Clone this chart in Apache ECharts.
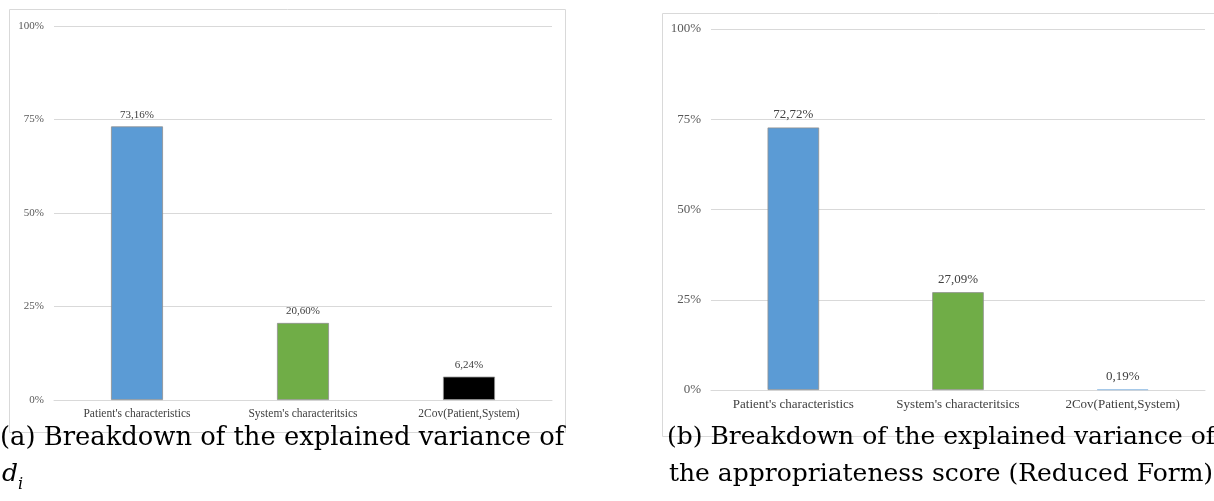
<!DOCTYPE html>
<html><head><meta charset="utf-8">
<script src="https://cdn.jsdelivr.net/npm/echarts@6/dist/echarts.min.js"></script>
<style>html,body{margin:0;padding:0;background:#fff}#c{width:1214px;height:501px}</style>
</head><body><div id="c"></div>
<script>
const categories = ["Patient's characteristics", "System's characteritsics", "2Cov(Patient,System)"];
const valuesA = [73.16, 20.60, 6.24];
const valuesB = [72.72, 27.09, 0.19];
const colorsA = ['#5B9BD5', '#70AD47', '#000000'];
const colorsB = ['#5B9BD5', '#70AD47', '#5B9BD5'];
const bordersA = ['#8f8f8f', '#8f8f8f', '#8f8f8f'];
const bordersB = ['#8f8f8f', '#8f8f8f', '#9cc3e6'];
const yTicks = [0, 25, 50, 75, 100];
const captionA = ['(a) Breakdown of the explained variance of', 'd', 'i'];
const captionB = ['(b) Breakdown of the explained variance of', 'the appropriateness score (Reduced Form)'];

const chart = echarts.init(document.getElementById('c'), null, {renderer: 'canvas'});
const serif = '"Liberation Serif", "Times New Roman", serif';
const capFont = '"DejaVu Serif", serif';
function fmt(v){ return v.toFixed(2).replace('.', ',') + '%'; }
function mkData(vals, cols, bords){
  return vals.map((v,i)=>({value:v, itemStyle:{color:cols[i], borderColor:bords[i]}}));
}
function yAx(gi, fs){
  return {type:'value', gridIndex:gi, min:yTicks[0], max:yTicks[yTicks.length-1], interval:25,
    axisLabel:{formatter:v=>v+'%', color:'#595959', fontFamily:serif, fontSize:fs, margin:10},
    splitLine:{lineStyle:{color:'#d9d9d9', width:1}}, axisLine:{show:false}, axisTick:{show:false}};
}
function xAx(gi, fs){
  return {type:'category', gridIndex:gi, data:categories,
    axisLabel:{color:'#404040', fontFamily:serif, fontSize:fs, margin:8, interval:0},
    axisLine:{lineStyle:{color:'#d9d9d9'}}, axisTick:{show:false}};
}
function ser(i, vals, cols, bords, fs){
  return {type:'bar', xAxisIndex:i, yAxisIndex:i, data:mkData(vals, cols, bords), barWidth:'31.3%',
    itemStyle:{borderWidth:0.8},
    label:{show:true, position:'top', distance:6, formatter:p=>fmt(p.value), color:'#404040', fontFamily:serif, fontSize:fs}};
}
chart.setOption({
  animation:false,
  grid:[{left:54, top:26, width:498, height:374}, {left:711, top:29, width:494, height:361}],
  xAxis:[xAx(0,11.5), xAx(1,13)],
  yAxis:[yAx(0,11), yAx(1,13)],
  series:[ser(0, valuesA, colorsA, bordersA, 11), ser(1, valuesB, colorsB, bordersB, 13)],
  graphic:[
    {type:'rect', shape:{x:9.5, y:9.5, width:556, height:423}, style:{fill:null, stroke:'#d9d9d9', lineWidth:1}, z:-1},
    {type:'rect', shape:{x:662.5, y:13.5, width:600, height:423}, style:{fill:null, stroke:'#d9d9d9', lineWidth:1}, z:-1},
    {type:'text', x:0, y:425, style:{text:captionA[0], font:'25.8px ' + capFont, fill:'#000', align:'left', verticalAlign:'top'}},
    {type:'text', x:2, y:462, style:{text:captionA[1], font:'italic 25px ' + capFont, fill:'#000', align:'left', verticalAlign:'top'}},
    {type:'text', x:18, y:477, style:{text:captionA[2], font:'italic 16px ' + capFont, fill:'#000', align:'left', verticalAlign:'top'}},
    {type:'text', x:941, y:425, style:{text:captionB[0], font:'25px ' + capFont, fill:'#000', align:'center', verticalAlign:'top'}},
    {type:'text', x:941, y:462, style:{text:captionB[1], font:'25px ' + capFont, fill:'#000', align:'center', verticalAlign:'top'}}
  ]
});
</script></body></html>
